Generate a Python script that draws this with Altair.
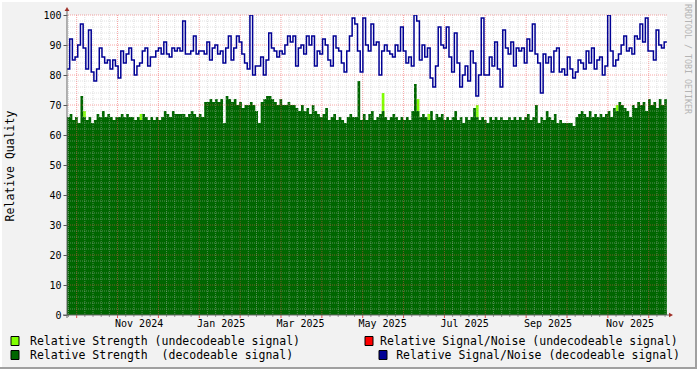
import altair as alt
import pandas as pd
import numpy as np

# ---------------- data (one value per 2 days) ----------------
snr_decodeable = [
    82, 92, 85, 86, 90, 97, 89, 82, 95, 81, 78, 82, 89, 86, 84, 85, 82, 85, 83, 79,
    88, 84, 87, 89, 85, 80, 83, 84, 88, 89, 83, 86, 86, 88, 89, 87, 91, 87, 86, 89,
    88, 89, 88, 98, 87, 87, 88, 93, 87, 88, 88, 87, 91, 85, 89, 90,
    87, 88, 84, 89, 93, 85, 89, 93, 91, 87, 84, 82, 100, 80, 83, 83, 86, 80, 85, 94,
    89, 88, 86, 88, 87, 90, 93, 91, 93, 83, 89, 90, 87, 93, 90, 93, 83, 88, 87, 92,
    90, 85, 83, 93, 89, 88, 84, 81, 88, 93, 99, 97, 88, 81, 99, 90,
    88, 97, 90, 91, 80, 88, 90, 88, 87, 86, 90, 88, 96, 88, 84, 86, 83, 100, 98, 85,
    90, 86, 89, 79, 76, 83, 96, 90, 89, 96, 86, 81, 94, 84, 76, 80, 83, 78, 88, 84,
    73, 80, 99, 80, 80, 86, 83, 91, 82, 76, 95, 89, 87, 91, 83, 89,
    88, 89, 84, 92, 88, 97, 87, 84, 74, 87, 84, 86, 81, 88, 89, 81, 82, 80, 86, 82,
    79, 81, 85, 84, 82, 88, 84, 89, 82, 85, 86, 80, 83, 100, 88, 83, 85, 87, 90, 93,
    88, 89, 87, 93, 92, 97, 91, 99, 88, 88, 85, 95, 90, 89, 91,
]

strength_decodeable = [
    66, 67, 65, 66, 64, 73, 66, 65, 66, 64, 65, 67, 66, 68, 66, 67, 66, 65, 66, 66,
    67, 66, 67, 66, 66, 65, 66, 65, 67, 66, 65, 66, 65, 66, 65, 66, 68, 67, 66, 68,
    67, 67, 67, 67, 66, 67, 68, 67, 66, 67, 66, 71, 71, 72, 71, 72,
    71, 72, 64, 73, 72, 71, 72, 70, 71, 69, 70, 70, 71, 70, 68, 64, 71, 72, 73, 73,
    72, 71, 70, 72, 70, 70, 71, 70, 70, 69, 68, 70, 68, 69, 67, 70, 68, 67, 66, 67,
    69, 65, 66, 67, 65, 66, 65, 64, 66, 67, 66, 66, 78, 65, 67, 65,
    67, 68, 65, 66, 67, 68, 66, 65, 66, 67, 66, 65, 66, 65, 66, 65, 68, 77, 68, 66,
    67, 66, 65, 68, 65, 67, 66, 67, 65, 66, 65, 66, 68, 65, 66, 64, 66, 65, 66, 69,
    66, 65, 66, 65, 64, 66, 65, 66, 65, 66, 65, 65, 66, 65, 66, 65,
    66, 65, 66, 67, 65, 66, 70, 64, 66, 65, 68, 66, 65, 67, 64, 65, 64, 64, 64, 64,
    63, 66, 67, 68, 67, 66, 68, 66, 67, 66, 67, 66, 67, 68, 66, 69, 68, 71, 70, 69,
    68, 66, 70, 69, 71, 70, 71, 68, 72, 70, 71, 69, 72, 70, 72,
]

# undecodeable strength: only the few spikes that show above the dark green
strength_undecodeable_idx = [6, 27, 117, 130, 134, 152, 204]
strength_undecodeable_val = [68, 67, 74, 72, 67, 70, 70]

month_labels = [(2024, 11), (2025, 1), (2025, 3), (2025, 5), (2025, 7), (2025, 9), (2025, 11)]
y_ticks = list(range(0, 101, 10))

legend_items = [
    "Relative Strength (undecodeable signal)",
    "Relative Strength\u00a0\u00a0(decodeable signal)",
    "Relative Signal/Noise (undecodeable signal)",
    "Relative Signal/Noise (decodeable signal)",
]
legend_colors = ["#80FF00", "#006600", "#FF0000", "#000094"]

# ---------------- tables ----------------
t0 = pd.Timestamp("2024-09-08 18:00")
fmt = "%Y-%m-%dT%H:%M:%S"

n = len(snr_decodeable)
starts = t0 + pd.to_timedelta(2 * np.arange(n), unit="D")
ends = starts + pd.Timedelta(days=2)

step_dates = list(starts.strftime(fmt)) + [ends[-1].strftime(fmt)]
df_green = pd.DataFrame({"date": step_dates,
                         "value": strength_decodeable + [strength_decodeable[-1]]})
df_blue = pd.DataFrame({"date": step_dates,
                        "value": snr_decodeable + [snr_decodeable[-1]]})
df_lime = pd.DataFrame({
    "date": [starts[i].strftime(fmt) for i in strength_undecodeable_idx],
    "end": [ends[i].strftime(fmt) for i in strength_undecodeable_idx],
    "value": strength_undecodeable_val,
})

# grid positions (major ~ every 30.4 days, 5 minor divisions)
major_period = 30.38
first_major = 7.2
maj_days = [first_major + k * major_period for k in range(20) if first_major + k * major_period < 445]
min_days = [d for d in np.arange(first_major - major_period / 5, 445, major_period / 5)
            if d > 0 and all(abs(d - m) > 0.5 for m in maj_days)]
df_vmaj = pd.DataFrame({"date": [(t0 + pd.Timedelta(days=float(d))).strftime(fmt) for d in maj_days]})
df_vmin = pd.DataFrame({"date": [(t0 + pd.Timedelta(days=float(d))).strftime(fmt) for d in min_days]})
df_hmaj = pd.DataFrame({"value": list(range(10, 101, 10))})
df_hmin = pd.DataFrame({"value": [v for v in range(2, 100, 2) if v % 10 != 0]})

one = pd.DataFrame({"k": [0]})

FONT = "DejaVu Sans Mono"

xscale = alt.Scale(domain=[alt.DateTime(year=2024, month=9, date=8, hours=18),
                           alt.DateTime(year=2025, month=11, date=28, hours=20, minutes=24)])
yscale = alt.Scale(domain=[0, 100], nice=False)

x_axis = alt.Axis(
    values=[alt.DateTime(year=y, month=m, date=1) for (y, m) in month_labels],
    format="%b %Y", ticks=False, domain=False, grid=False, title=None,
    labelFont=FONT, labelFontSize=10, labelColor="#000000", labelPadding=3,
    labelOverlap=False, labelFlush=False,
)
y_axis = alt.Axis(
    values=y_ticks, format="d", grid=False, domain=False, title=None,
    tickColor="#555555", tickSize=4, labelPadding=2,
    labelFont=FONT, labelFontSize=10, labelColor="#000000",
    labelOverlap=False, labelFlush=False,
)

X = alt.X("date:T", scale=xscale, axis=x_axis)
Y = alt.Y("value:Q", scale=yscale, axis=y_axis)

lime = alt.Chart(df_lime).mark_bar(color="#80FF00", clip=True).encode(
    x=X, x2="end:T", y=Y, y2=alt.datum(0),
)

green = alt.Chart(df_green).mark_area(color="#006600", interpolate="step-after", clip=True).encode(
    x=X, y=Y,
)

vmin = alt.Chart(df_vmin).mark_rule(color="#BABABA", opacity=0.45, strokeDash=[1, 1], strokeWidth=1).encode(x=X)
vmaj = alt.Chart(df_vmaj).mark_rule(color="#F05050", opacity=0.5, strokeDash=[1, 1], strokeWidth=1).encode(x=X)
hmin = alt.Chart(df_hmin).mark_rule(color="#BABABA", opacity=0.45, strokeDash=[1, 1], strokeWidth=1).encode(y=Y)
hmaj = alt.Chart(df_hmaj).mark_rule(color="#F05050", opacity=0.5, strokeDash=[1, 1], strokeWidth=1).encode(y=Y)

tick_min = alt.Chart(df_vmin).mark_rule(color="#999999", strokeWidth=1).encode(
    x=X, y=alt.value(300), y2=alt.value(302))
tick_maj = alt.Chart(df_vmaj).mark_rule(color="#E05050", strokeWidth=1).encode(
    x=X, y=alt.value(300), y2=alt.value(303))

blue = alt.Chart(df_blue).mark_line(color="#000094", strokeWidth=1.5, interpolate="step-after", clip=True).encode(
    x=X, y=Y,
)

base = alt.Chart(one)
x_line = base.mark_rule(color="#666666", strokeWidth=1).encode(
    x=alt.value(-4), x2=alt.value(602), y=alt.value(300))
y_line = base.mark_rule(color="#666666", strokeWidth=1).encode(
    x=alt.value(0), y=alt.value(303), y2=alt.value(-4))
x_arrow = base.mark_point(shape="triangle-right", filled=True, color="#A03028", size=22, opacity=1).encode(
    x=alt.value(604), y=alt.value(300))
y_arrow = base.mark_point(shape="triangle-up", filled=True, color="#A03028", size=22, opacity=1).encode(
    x=alt.value(0), y=alt.value(-6))

y_title = base.mark_text(angle=270, font=FONT, fontSize=11.5, color="#000000",
                         align="center", baseline="middle").encode(
    x=alt.value(-56), y=alt.value(151), text=alt.value("Relative Quality"))

watermark = base.mark_text(angle=90, font=FONT, fontSize=8.3, color="#B4B4B4",
                           align="left", baseline="middle").encode(
    x=alt.value(620), y=alt.value(-11), text=alt.value("RRDTOOL / TOBI OETIKER"))

# legend (boxes + text)
leg_layers = []
leg_box_x = [-52, -52, 302, 316]
leg_text_x = [-37, -37, 313, 613]
leg_text_align = ["left", "left", "left", "right"]
leg_y = [326, 340, 326, 340]
for i in range(4):
    leg_layers.append(base.mark_rect(fill=legend_colors[i], stroke="#000000", strokeWidth=1).encode(
        x=alt.value(leg_box_x[i] - 4), x2=alt.value(leg_box_x[i] + 4),
        y=alt.value(leg_y[i] - 4.5), y2=alt.value(leg_y[i] + 4.5)))
    leg_layers.append(base.mark_text(font=FONT, fontSize=11.5, color="#000000",
                                     align=leg_text_align[i], baseline="middle").encode(
        x=alt.value(leg_text_x[i]), y=alt.value(leg_y[i] + 0.5), text=alt.value(legend_items[i])))

# frame: light top/left, dark bottom/right
frame_dark_r = base.mark_rule(color="#A0A0A0", strokeWidth=2).encode(
    x=alt.value(629), y=alt.value(-15), y2=alt.value(354))
frame_dark_b = base.mark_rule(color="#A0A0A0", strokeWidth=2).encode(
    x=alt.value(-67), x2=alt.value(630), y=alt.value(353))
frame_light_l = base.mark_rule(color="#FFFFFF", strokeWidth=2).encode(
    x=alt.value(-66), y=alt.value(-15), y2=alt.value(352))
frame_light_t = base.mark_rule(color="#FFFFFF", strokeWidth=2).encode(
    x=alt.value(-67), x2=alt.value(628), y=alt.value(-14))

chart = alt.layer(
    lime, green, vmin, hmin, vmaj, hmaj, blue,
    tick_min, tick_maj, x_line, y_line, x_arrow, y_arrow,
    y_title, watermark, *leg_layers,
    frame_dark_r, frame_dark_b, frame_light_l, frame_light_t,
).properties(
    width=600, height=300,
    autosize=alt.AutoSizeParams(type="none"),
    padding={"left": 67, "top": 15, "right": 30, "bottom": 54},
    background="#F2F2F2",
).configure_view(fill="#FFFFFF", strokeWidth=0)

chart.save("out.html", embed_options={"renderer": "svg", "actions": False})
